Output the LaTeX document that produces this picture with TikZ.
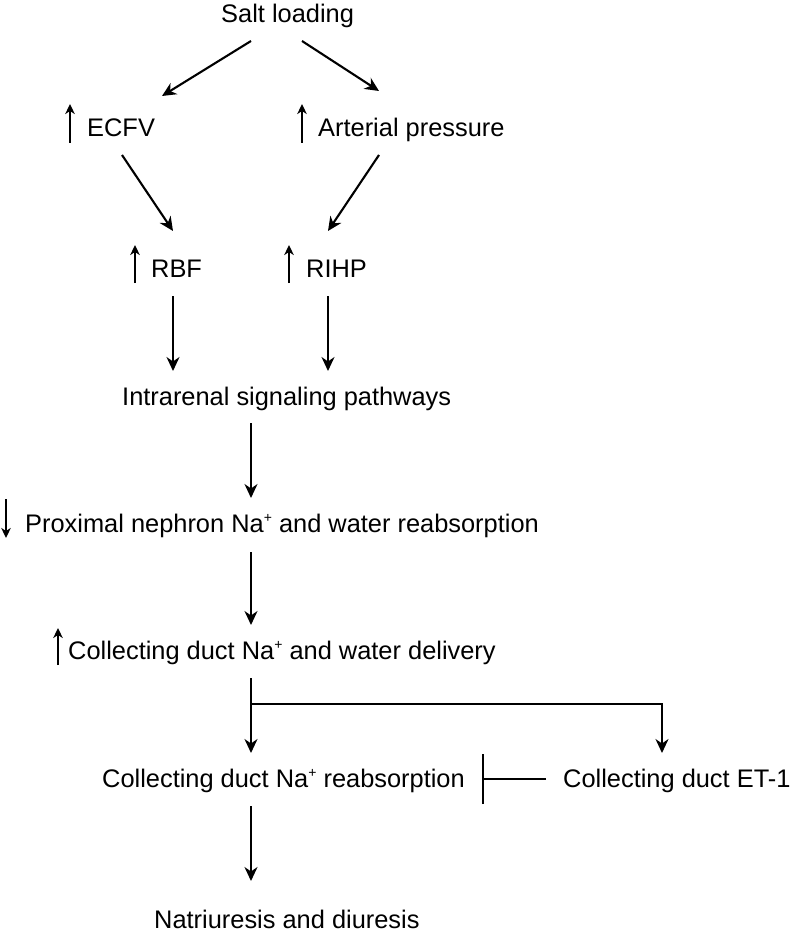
\documentclass[tikz,border=0pt]{standalone}
\usepackage{fontspec}
\setmainfont{Liberation Sans}
\usetikzlibrary{arrows.meta,calc}
\newcommand{\plussup}{\raisebox{9.5pt}{\fontsize{14}{14}\selectfont +}}
\begin{document}
\begin{tikzpicture}[x=1pt,y=-1pt,
  lbl/.style={inner sep=0pt, anchor=base west, font=\fontsize{25.4}{30}\selectfont},
  conn/.style={line width=2.1pt, -{Stealth[length=14pt,width=13pt,inset=4.5pt]}},
  ind/.style={line width=2.1pt, -{Stealth[length=10pt,width=9.5pt,inset=3pt]}},
  inh/.style={line width=2.1pt, -{Bar[width=50pt]}}]
\useasboundingbox (0,0) rectangle (796,936);
% nodes
\node[lbl] (salt)  at (221,23)  {Salt loading};
\node[lbl] (ecfv)  at (87,137)  {ECFV};
\node[lbl] (art)   at (318,137) {Arterial pressure};
\node[lbl] (rbf)   at (151,277) {RBF};
\node[lbl] (rihp)  at (306,277) {RIHP};
\node[lbl] (intra) at (122,405) {Intrarenal signaling pathways};
\node[lbl] (prox)  at (25,532)  {Proximal nephron Na\plussup{} and water reabsorption};
\node[lbl] (coll)  at (68,659)  {Collecting duct Na\plussup{} and water delivery};
\node[lbl] (reab)  at (102,787) {Collecting duct Na\plussup{} reabsorption};
\node[lbl] (et1)   at (563,787) {Collecting duct ET-1};
\node[lbl] (natri) at (154,928) {Natriuresis and diuresis};
% change indicators
\draw[ind] ($(ecfv.base west)+(-17,6)$) -- +(0,-39);
\draw[ind] ($(art.base west)+(-16,6)$) -- +(0,-39);
\draw[ind] ($(rbf.base west)+(-16,6)$) -- +(0,-38);
\draw[ind] ($(rihp.base west)+(-17,6)$) -- +(0,-38);
\draw[ind] ($(prox.base west)+(-19,-33)$) -- +(0,39);
\draw[ind] ($(coll.base west)+(-10,6)$) -- +(0,-37);
% connectors
\draw[conn] ($(salt.base west)+(30,18)$) -- ($(ecfv.base west)+(75,-41)$);
\draw[conn] ($(salt.base west)+(81,18)$) -- ($(art.base west)+(61,-46)$);
\draw[conn] ($(ecfv.base west)+(35,18)$) -- ($(rbf.base west)+(22,-46)$);
\draw[conn] ($(art.base west)+(61,18)$) -- ($(rihp.base west)+(22,-46)$);
\draw[conn] ($(rbf.base west)+(22,19)$) -- ($(intra.base west)+(51,-34)$);
\draw[conn] ($(rihp.base west)+(22,19)$) -- ($(intra.base west)+(206,-34)$);
\draw[conn] ($(intra.base west)+(129,18)$) -- ($(prox.base west)+(226,-34)$);
\draw[conn] ($(prox.base west)+(226,20)$) -- ($(coll.base west)+(183,-34)$);
\draw[conn] ($(coll.base west)+(183,19)$) -- ($(reab.base west)+(149,-34)$);
\draw[conn] ($(coll.base west)+(183,45)$) -| ($(et1.base west)+(99,-34)$);
\draw[inh] ($(et1.base west)+(-17,-8)$) -- ($(reab.base west)+(380,-8)$);
\draw[conn] ($(reab.base west)+(149,19)$) -- ($(natri.base west)+(97,-47)$);
\end{tikzpicture}
\end{document}
